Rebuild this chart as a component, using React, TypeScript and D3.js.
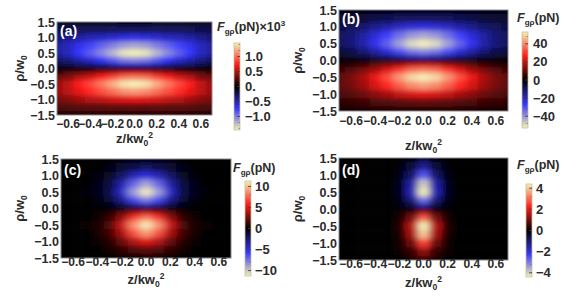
import React from 'react';
import * as d3 from 'd3';

const zGrid = [-0.7, -0.6, -0.5, -0.4, -0.3, -0.2, -0.1, 0, 0.1, 0.2, 0.3, 0.4, 0.5, 0.6, 0.7];
const rhoGrid = [1.5, 1.25, 1, 0.75, 0.5, 0.25, 0.125, 0, -0.125, -0.25, -0.5, -0.75, -1, -1.25, -1.5];

const xTicks = [-0.6, -0.4, -0.2, 0, 0.2, 0.4, 0.6];
const yTicks = [-1.5, -1, -0.5, 0, 0.5, 1, 1.5];

// (a) F_grho (pN) x 10^3
const fieldA = [
  [-0.10, -0.10, -0.10, -0.10, -0.09, -0.09, -0.08, -0.08, -0.08, -0.09, -0.09, -0.10, -0.10, -0.10, -0.10],
  [-0.21, -0.22, -0.24, -0.25, -0.25, -0.26, -0.25, -0.26, -0.25, -0.26, -0.25, -0.25, -0.24, -0.22, -0.21],
  [-0.34, -0.38, -0.46, -0.51, -0.55, -0.59, -0.63, -0.65, -0.63, -0.59, -0.55, -0.51, -0.46, -0.38, -0.34],
  [-0.45, -0.53, -0.67, -0.78, -0.90, -1.01, -1.12, -1.16, -1.12, -1.01, -0.90, -0.78, -0.67, -0.53, -0.45],
  [-0.45, -0.54, -0.73, -0.87, -1.04, -1.22, -1.40, -1.45, -1.40, -1.22, -1.04, -0.87, -0.73, -0.54, -0.45],
  [-0.29, -0.35, -0.49, -0.59, -0.73, -0.87, -1.02, -1.06, -1.02, -0.87, -0.73, -0.59, -0.49, -0.35, -0.29],
  [-0.16, -0.19, -0.27, -0.32, -0.40, -0.48, -0.56, -0.58, -0.56, -0.48, -0.40, -0.32, -0.27, -0.19, -0.16],
  [0, 0, 0, 0, 0, 0, 0, 0, 0, 0, 0, 0, 0, 0, 0],
  [0.16, 0.19, 0.27, 0.32, 0.40, 0.48, 0.56, 0.58, 0.56, 0.48, 0.40, 0.32, 0.27, 0.19, 0.16],
  [0.29, 0.35, 0.49, 0.59, 0.73, 0.87, 1.02, 1.06, 1.02, 0.87, 0.73, 0.59, 0.49, 0.35, 0.29],
  [0.45, 0.54, 0.73, 0.87, 1.04, 1.22, 1.40, 1.45, 1.40, 1.22, 1.04, 0.87, 0.73, 0.54, 0.45],
  [0.45, 0.53, 0.67, 0.78, 0.90, 1.01, 1.12, 1.16, 1.12, 1.01, 0.90, 0.78, 0.67, 0.53, 0.45],
  [0.34, 0.38, 0.46, 0.51, 0.55, 0.59, 0.63, 0.65, 0.63, 0.59, 0.55, 0.51, 0.46, 0.38, 0.34],
  [0.21, 0.22, 0.24, 0.25, 0.25, 0.26, 0.25, 0.26, 0.25, 0.26, 0.25, 0.25, 0.24, 0.22, 0.21],
  [0.10, 0.10, 0.10, 0.10, 0.09, 0.09, 0.08, 0.08, 0.08, 0.09, 0.09, 0.10, 0.10, 0.10, 0.10],
];

// (b)
const fieldB = [
  [-2.2, -2.4, -2.5, -2.7, -2.9, -3.0, -2.8, -2.9, -2.8, -3.0, -2.9, -2.7, -2.5, -2.4, -2.2],
  [-4.4, -5.1, -5.9, -7.1, -8.0, -8.9, -9.1, -9.6, -9.1, -8.9, -8.0, -7.1, -5.9, -5.1, -4.4],
  [-7.3, -8.9, -11.1, -14.4, -17.3, -20.3, -22.3, -23.6, -22.3, -20.3, -17.3, -14.4, -11.1, -8.9, -7.3],
  [-9.6, -12.3, -16.4, -22.2, -28.1, -34.8, -40.2, -42.6, -40.2, -34.8, -28.1, -22.2, -16.4, -12.3, -9.6],
  [-9.6, -12.6, -17.7, -24.8, -32.8, -41.9, -50, -53, -50, -41.9, -32.8, -24.8, -17.7, -12.6, -9.6],
  [-6.1, -8.2, -11.8, -16.9, -23.0, -29.9, -36.4, -38.6, -36.4, -29.9, -23.0, -16.9, -11.8, -8.2, -6.1],
  [-3.4, -4.5, -6.5, -9.3, -12.7, -16.4, -20.0, -21.2, -20.0, -16.4, -12.7, -9.3, -6.5, -4.5, -3.4],
  [0, 0, 0, 0, 0, 0, 0, 0, 0, 0, 0, 0, 0, 0, 0],
  [3.4, 4.5, 6.5, 9.3, 12.7, 16.4, 20.0, 21.2, 20.0, 16.4, 12.7, 9.3, 6.5, 4.5, 3.4],
  [6.1, 8.2, 11.8, 16.9, 23.0, 29.9, 36.4, 38.6, 36.4, 29.9, 23.0, 16.9, 11.8, 8.2, 6.1],
  [9.6, 12.6, 17.7, 24.8, 32.8, 41.9, 50, 53, 50, 41.9, 32.8, 24.8, 17.7, 12.6, 9.6],
  [9.6, 12.3, 16.4, 22.2, 28.1, 34.8, 40.2, 42.6, 40.2, 34.8, 28.1, 22.2, 16.4, 12.3, 9.6],
  [7.3, 8.9, 11.1, 14.4, 17.3, 20.3, 22.3, 23.6, 22.3, 20.3, 17.3, 14.4, 11.1, 8.9, 7.3],
  [4.4, 5.1, 5.9, 7.1, 8.0, 8.9, 9.1, 9.6, 9.1, 8.9, 8.0, 7.1, 5.9, 5.1, 4.4],
  [2.2, 2.4, 2.5, 2.7, 2.9, 3.0, 2.8, 2.9, 2.8, 3.0, 2.9, 2.7, 2.5, 2.4, 2.2],
];

// (c)
const fieldC = [
  [0, 0, 0, -0.05, -0.1, -0.3, -0.5, -0.6, -0.5, -0.3, -0.1, -0.05, 0, 0, 0],
  [0, 0, -0.04, -0.1, -0.4, -1.0, -1.6, -2.0, -1.6, -1.0, -0.4, -0.1, -0.04, 0, 0],
  [0, -0.03, -0.1, -0.3, -0.8, -2.2, -3.9, -5.0, -3.9, -2.2, -0.8, -0.3, -0.1, -0.03, 0],
  [-0.02, -0.04, -0.13, -0.4, -1.4, -3.7, -7.1, -9.1, -7.1, -3.7, -1.4, -0.4, -0.13, -0.04, -0.02],
  [-0.02, -0.05, -0.15, -0.5, -1.6, -4.5, -8.8, -11.3, -8.8, -4.5, -1.6, -0.5, -0.15, -0.05, -0.02],
  [-0.01, -0.03, -0.1, -0.35, -1.1, -3.2, -6.4, -8.2, -6.4, -3.2, -1.1, -0.35, -0.1, -0.03, -0.01],
  [-0.01, -0.02, -0.06, -0.19, -0.6, -1.8, -3.5, -4.5, -3.5, -1.8, -0.6, -0.19, -0.06, -0.02, -0.01],
  [0, 0, 0, 0, 0, 0, 0, 0, 0, 0, 0, 0, 0, 0, 0],
  [0.01, 0.02, 0.06, 0.19, 0.6, 1.8, 3.5, 4.5, 3.5, 1.8, 0.6, 0.19, 0.06, 0.02, 0.01],
  [0.01, 0.03, 0.1, 0.35, 1.1, 3.2, 6.4, 8.2, 6.4, 3.2, 1.1, 0.35, 0.1, 0.03, 0.01],
  [0.02, 0.05, 0.15, 0.5, 1.6, 4.5, 8.8, 11.3, 8.8, 4.5, 1.6, 0.5, 0.15, 0.05, 0.02],
  [0.02, 0.04, 0.13, 0.4, 1.4, 3.7, 7.1, 9.1, 7.1, 3.7, 1.4, 0.4, 0.13, 0.04, 0.02],
  [0, 0.03, 0.1, 0.3, 0.8, 2.2, 3.9, 5.0, 3.9, 2.2, 0.8, 0.3, 0.1, 0.03, 0],
  [0, 0, 0.04, 0.1, 0.4, 1.0, 1.6, 2.0, 1.6, 1.0, 0.4, 0.1, 0.04, 0, 0],
  [0, 0, 0, 0.05, 0.1, 0.3, 0.5, 0.6, 0.5, 0.3, 0.1, 0.05, 0, 0, 0],
];

// (d)
const fieldD = [
  [0, 0, 0, 0, 0, -0.03, -0.17, -0.5, -0.17, -0.03, 0, 0, 0, 0, 0],
  [0, 0, 0, 0, -0.01, -0.07, -0.45, -1.26, -0.45, -0.07, -0.01, 0, 0, 0, 0],
  [0, 0, 0, 0, -0.02, -0.14, -0.92, -2.55, -0.92, -0.14, -0.02, 0, 0, 0, 0],
  [0, 0, 0, 0, -0.03, -0.22, -1.42, -3.95, -1.42, -0.22, -0.03, 0, 0, 0, 0],
  [0, 0, 0, 0, -0.03, -0.25, -1.59, -4.4, -1.59, -0.25, -0.03, 0, 0, 0, 0],
  [0, 0, 0, 0, -0.02, -0.17, -1.08, -3.0, -1.08, -0.17, -0.02, 0, 0, 0, 0],
  [0, 0, 0, 0, -0.01, -0.09, -0.59, -1.65, -0.59, -0.09, -0.01, 0, 0, 0, 0],
  [0, 0, 0, 0, 0, 0, 0, 0, 0, 0, 0, 0, 0, 0, 0],
  [0, 0, 0, 0, 0.01, 0.09, 0.59, 1.65, 0.59, 0.09, 0.01, 0, 0, 0, 0],
  [0, 0, 0, 0, 0.02, 0.17, 1.08, 3.0, 1.08, 0.17, 0.02, 0, 0, 0, 0],
  [0, 0, 0, 0, 0.03, 0.25, 1.59, 4.4, 1.59, 0.25, 0.03, 0, 0, 0, 0],
  [0, 0, 0, 0, 0.03, 0.22, 1.42, 3.95, 1.42, 0.22, 0.03, 0, 0, 0, 0],
  [0, 0, 0, 0, 0.02, 0.14, 0.92, 2.55, 0.92, 0.14, 0.02, 0, 0, 0, 0],
  [0, 0, 0, 0, 0.01, 0.07, 0.45, 1.26, 0.45, 0.07, 0.01, 0, 0, 0, 0],
  [0, 0, 0, 0, 0, 0.03, 0.17, 0.5, 0.17, 0.03, 0, 0, 0, 0, 0],
];

const barMaxA = 1.45;
const barMaxB = 53;
const barMaxC = 11.3;
const barMaxD = 4.4;

const barTicksA = [1, 0.5, 0, -0.5, -1];
const barLabelsA = ['1.0', '0.5', '0.', '\u22120.5', '\u22121.0'];
const barTicksB = [40, 20, 0, -20, -40];
const barLabelsB = ['40', '20', '0', '\u221220', '\u221240'];
const barTicksC = [10, 5, 0, -5, -10];
const barLabelsC = ['10', '5', '0', '\u22125', '\u221210'];
const barTicksD = [4, 2, 0, -2, -4];
const barLabelsD = ['4', '2', '0', '\u22122', '\u22124'];

const colorDomain = [-1, -0.5, 0, 0.5, 1];
const colorRange = ['#f3efb8', '#3535ff', '#000000', '#ff1a1a', '#f3efb8'];
const color = d3.scaleLinear<string>().domain(colorDomain).range(colorRange)
  .interpolate(d3.interpolateRgb).clamp(true);

const fmt = (v: number) => d3.format('.1f')(v).replace('-', '\u2212');

const FONT = "'Liberation Sans', Arial, Helvetica, sans-serif";
const TXT = '#2b2b2b';

const panels = [
  { id: 'a', label: '(a)', values: fieldA, max: barMaxA, ticks: barTicksA, labels: barLabelsA, exp: true,
    plot: [57, 212, 22, 115], bar: [234, 6, 43, 130], barLabelX: 245, titleX: 217, titleY: 31,
    xLabY: 128, xTitleY: 143, yTitleX: 24, tagY: 36 },
  { id: 'b', label: '(b)', values: fieldB, max: barMaxB, ticks: barTicksB, labels: barLabelsB, exp: false,
    plot: [339, 508, 10, 111], bar: [522, 6, 32, 128], barLabelX: 533, titleX: 517, titleY: 22,
    xLabY: 125, xTitleY: 150, yTitleX: 302, tagY: 24 },
  { id: 'c', label: '(c)', values: fieldC, max: barMaxC, ticks: barTicksC, labels: barLabelsC, exp: false,
    plot: [61, 231, 159, 258], bar: [245, 6, 181, 276], barLabelX: 255, titleX: 233, titleY: 172,
    xLabY: 266, xTitleY: 284, yTitleX: 24, tagY: 175 },
  { id: 'd', label: '(d)', values: fieldD, max: barMaxD, ticks: barTicksD, labels: barLabelsD, exp: false,
    plot: [339, 508, 158, 260], bar: [526, 6, 184, 277], barLabelX: 536, titleX: 517, titleY: 169,
    xLabY: 268, xTitleY: 287, yTitleX: 302, tagY: 175 },
];

// cell edges half way between neighbouring grid points
const edges = (g: number[]) => g.map((v, i) => [
  i === 0 ? v - (g[1] - g[0]) / 2 : (g[i - 1] + v) / 2,
  i === g.length - 1 ? v + (v - g[i - 1]) / 2 : (v + g[i + 1]) / 2,
]);

const Panel = ({ p }: { p: any }) => {
  const [x0, x1, y0, y1] = p.plot;
  const xs = d3.scaleLinear().domain([-0.7, 0.7]).range([x0, x1]);
  const ys = d3.scaleLinear().domain([-1.5, 1.5]).range([y1, y0]);
  const pad = 14;
  const cw = xs(0.1) - xs(0);
  const ch = ys(0) - ys(0.25);
  const ze = edges(zGrid);
  const re = edges(rhoGrid);
  const nz = zGrid.length, nr = rhoGrid.length;

  const cells: any[] = [];
  rhoGrid.forEach((r, i) => {
    zGrid.forEach((z, j) => {
      let left = xs(ze[j][0]), right = xs(ze[j][1]);
      let top = ys(re[i][0]), bottom = ys(re[i][1]);
      if (j === 0) left -= pad;
      if (j === nz - 1) right += pad;
      if (i === 0) top -= pad;
      if (i === nr - 1) bottom += pad;
      cells.push(
        <rect key={`${i}-${j}`} x={left} y={top} width={right - left + 0.6} height={bottom - top + 0.6}
          fill={color(p.values[i][j] / p.max)} />
      );
    });
  });

  const [bx, bw, by0, by1] = p.bar;
  const bs = d3.scaleLinear().domain([-p.max, p.max]).range([by1, by0]);
  const step = p.ticks[0] / 5;
  const nMinor = Math.floor(p.max / step);
  const minor = d3.range(-nMinor, nMinor + 1).map(k => k * step);

  return (
    <g>
      <defs>
        <clipPath id={`clip-${p.id}`}>
          <rect x={x0} y={y0} width={x1 - x0} height={y1 - y0} />
        </clipPath>
        <filter id={`blur-${p.id}`} filterUnits="userSpaceOnUse" x={x0 - 20} y={y0 - 20}
          width={x1 - x0 + 40} height={y1 - y0 + 40}>
          <feGaussianBlur stdDeviation={`${(cw * 0.33).toFixed(2)} ${(ch * 0.3).toFixed(2)}`} />
        </filter>
        <linearGradient id={`grad-${p.id}`} x1="0" y1="1" x2="0" y2="0">
          {d3.range(0, 41).map(k => {
            const t = -1 + k / 20;
            return <stop key={k} offset={(t + 1) / 2} stopColor={color(t)} />;
          })}
        </linearGradient>
      </defs>

      <g clipPath={`url(#clip-${p.id})`}>
        <g filter={`url(#blur-${p.id})`}>{cells}</g>
      </g>
      <rect x={x0} y={y0} width={x1 - x0} height={y1 - y0} fill="none" stroke="#8a8a8a" strokeWidth={1} />

      <text x={x0 + 3} y={p.tagY} fill="#fff" fontSize={14} fontWeight="bold">{p.label}</text>

      {xTicks.map(t => (
        <text key={t} x={xs(t)} y={p.xLabY} textAnchor="middle" fontSize={12} fontWeight="bold" fill={TXT}>{fmt(t)}</text>
      ))}
      {yTicks.map(t => (
        <text key={t} x={x0 - 2} y={ys(t) + 4.5} textAnchor="end" fontSize={12.5} fontWeight="bold" fill={TXT}>{fmt(t)}</text>
      ))}

      <text x={(x0 + x1) / 2} y={p.xTitleY} textAnchor="middle" fontSize={13} fontWeight="bold" fill={TXT}>
        z/kw<tspan fontSize={8.5} dy={3}>0</tspan><tspan fontSize={8.5} dy={-8}>2</tspan>
      </text>
      <text transform={`translate(${p.yTitleX},${(y0 + y1) / 2}) rotate(-90)`} textAnchor="middle"
        fontSize={13} fontWeight="bold" fill={TXT}>
        {'\u03c1/w'}<tspan fontSize={8.5} dy={3}>0</tspan>
      </text>

      <rect x={bx} y={by0} width={bw} height={by1 - by0} fill={`url(#grad-${p.id})`} stroke="#c9c29a" strokeWidth={0.8} />
      {minor.map(t => (
        <line key={t} x1={bx + bw - 1.5} x2={bx + bw} y1={bs(t)} y2={bs(t)} stroke="#555" strokeWidth={0.5} />
      ))}
      {p.ticks.map((t: number, k: number) => (
        <g key={t}>
          <line x1={bx + bw - 3} x2={bx + bw} y1={bs(t)} y2={bs(t)} stroke="#444" strokeWidth={0.8} />
          <text x={p.barLabelX} y={bs(t) + 4.5} fontSize={13} fontWeight="bold" fill={TXT}>{p.labels[k]}</text>
        </g>
      ))}

      <text x={p.titleX} y={p.titleY} fontSize={12.5} fontWeight="bold" fill={TXT}>
        <tspan fontStyle="italic">F</tspan>
        <tspan fontSize={8} dy={3}>{'g\u03c1'}</tspan>
        <tspan dy={-3}>(pN)</tspan>
        {p.exp && <tspan>{'\u00d710'}</tspan>}
        {p.exp && <tspan fontSize={8} dy={-5}>3</tspan>}
      </text>
    </g>
  );
};

export default function App() {
  return (
    <svg width={575} height={299} fontFamily={FONT}
      style={{ position: 'absolute', left: 0, top: 0, background: '#fff' }}>
      {panels.map(p => <Panel key={p.id} p={p} />)}
    </svg>
  );
}
